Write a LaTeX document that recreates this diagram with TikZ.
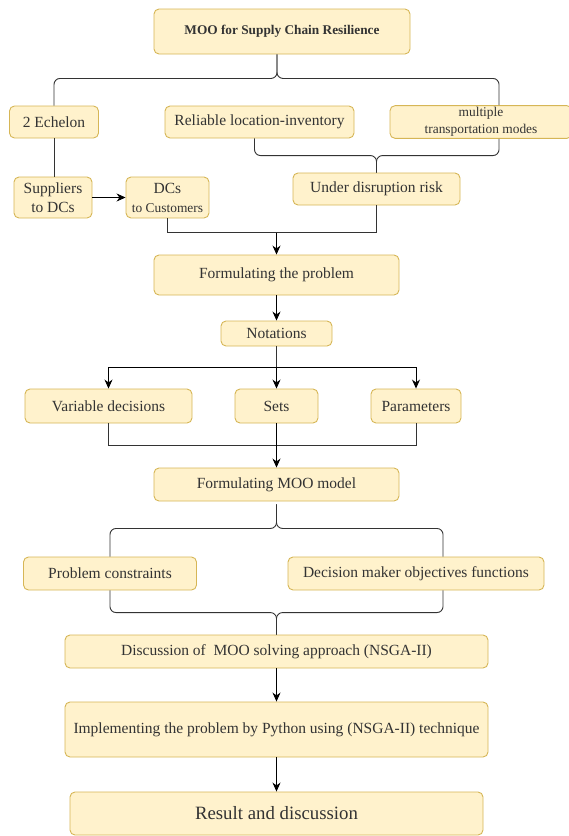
\documentclass[tikz,border=0pt]{standalone}
\usepackage{fontspec}
\setmainfont{Liberation Serif}
\usetikzlibrary{arrows.meta,calc}
\definecolor{boxfill}{HTML}{FFF2CC}
\definecolor{boxdraw}{HTML}{D6B656}
\definecolor{txt}{HTML}{333333}
\definecolor{ln}{HTML}{333333}
\tikzset{
  box/.style={draw=boxdraw, fill=boxfill, rounded corners=5pt, line width=0.9pt, text=txt, align=center, inner sep=2pt, font=\fontsize{15.5}{19}\selectfont},
  smalltext/.style={font=\fontsize{13.4}{16.5}\selectfont},
  conn/.style={draw=ln, line width=0.9pt},
  arr/.style={draw=black, line width=0.9pt, -{Stealth[length=9pt,width=8pt]}},
  brace/.style={draw=ln, line width=0.9pt, rounded corners=6pt}
}
\begin{document}
\begin{tikzpicture}[x=1pt,y=-1pt]
\useasboundingbox (0,0) rectangle (569,836);
% nodes
\node[box, minimum width=256, minimum height=45, font=\bfseries\fontsize{13.3}{16}\selectfont] (top) at (282,31.5) {MOO for Supply Chain Resilience};
\node[box, minimum width=89, minimum height=32] (echelon) at (54,122) {2 Echelon};
\node[box, minimum width=189, minimum height=32] (rel) at (259.5,122) {Reliable location-inventory};
\node[box, smalltext, minimum width=182, minimum height=32] (multi) at (481,122) {multiple\\transportation modes};
\node[box, minimum width=167, minimum height=32] (udr) at (376.5,189) {Under disruption risk};
\node[box, minimum width=78, minimum height=41] (sup) at (53,197.5) {Suppliers\\to DCs};
\node[box, minimum width=83, minimum height=41] (dcs) at (167.5,197.5) {DCs\\{\fontsize{13.4}{16}\selectfont to Customers}};
\node[box, minimum width=245, minimum height=40] (form) at (276.5,275) {Formulating the problem};
\node[box, minimum width=111, minimum height=25] (nota) at (276.5,333.5) {Notations};
\node[box, minimum width=167, minimum height=34] (var) at (108.5,406) {Variable decisions};
\node[box, minimum width=83, minimum height=34] (sets) at (276.5,406) {Sets};
\node[box, minimum width=90, minimum height=34] (par) at (416,406) {Parameters};
\node[box, minimum width=245, minimum height=33] (moo) at (276.5,484.5) {Formulating MOO model};
\node[box, minimum width=173, minimum height=33] (pc) at (110,573.5) {Problem constraints};
\node[box, minimum width=256, minimum height=33] (dm) at (416,573.5) {Decision maker objectives functions};
\node[box, minimum width=423, minimum height=33] (disc) at (276.5,651.5) {Discussion of~ MOO solving approach (NSGA-II)};
\node[box, minimum width=423, minimum height=55] (impl) at (276.5,729.5) {Implementing the problem by Python using (NSGA-II) technique};
\node[box, minimum width=413, minimum height=43, font=\fontsize{18.8}{22}\selectfont] (res) at (276.5,813.5) {Result and discussion};
% top brace
\coordinate (tb) at ($(top.south)+(-5,24)$);
\draw[brace] (echelon.north) |- (tb) -- (top.south -| tb);
\draw[brace] (top.south -| tb) -- (tb) -| ($(multi.north)+(18,0)$);
% reliable / multi brace
\coordinate (mb) at ($(udr.north)+(0,-17)$);
\draw[brace] ($(rel.south)+(-5,0)$) |- (mb) -- (udr.north);
\draw[brace] ($(multi.south)+(18,0)$) |- (mb) -- (udr.north);
% echelon
\draw[conn] (echelon.south) -- (echelon.south |- sup.north);
\draw[arr] (sup.east) -- (dcs.west);
% join to formulating
\coordinate (j1) at ($(form.north)+(0,-22)$);
\draw[conn] (dcs.south) |- (j1) -| (udr.south);
\draw[arr] (j1) -- (form.north);
\draw[arr] (form.south) -- (nota.north);
% notations split
\coordinate (j2) at ($(nota.south)+(0,21)$);
\draw[conn] (nota.south) -- (j2);
\draw[arr] (j2) -| (var.north);
\draw[arr] (j2) -| (par.north);
\draw[arr] (j2) -- (sets.north);
% join to MOO
\coordinate (j3) at ($(sets.south)+(0,22)$);
\draw[conn] (var.south) |- (j3) -| (par.south);
\draw[arr] (sets.south) -- (moo.north);
% MOO brace
\coordinate (mb2) at ($(moo.south)+(0,27)$);
\draw[brace] (pc.north) |- (mb2) -- ($(moo.south)+(0,3)$);
\draw[brace] ($(moo.south)+(0,3)$) -- (mb2) -| ($(dm.north)+(27,0)$);
\coordinate (mb3) at ($(disc.north)+(0,-22)$);
\draw[brace] (pc.south) |- (mb3) -- (disc.north);
\draw[brace] ($(dm.south)+(27,0)$) |- (mb3) -- (disc.north);
% final arrows
\draw[arr] (disc.south) -- (impl.north);
\draw[arr] (impl.south) -- (res.north);
\end{tikzpicture}
\end{document}
